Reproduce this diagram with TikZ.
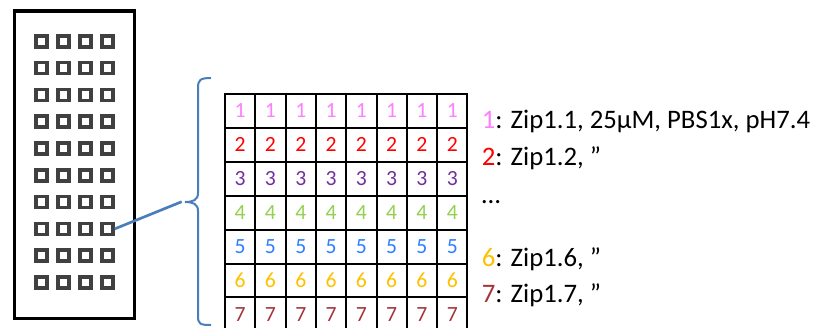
\documentclass[tikz,border=0pt]{standalone}
\usepackage{fontspec}
\setmainfont{Carlito}
\usetikzlibrary{positioning}
\definecolor{chipGrey}{HTML}{404040}
\definecolor{braceBlue}{HTML}{4A7EBB}
\definecolor{zipPink}{HTML}{FF80FF}
\definecolor{zipRed}{HTML}{FF0000}
\definecolor{zipPurple}{HTML}{7030A0}
\definecolor{zipGreen}{HTML}{92D050}
\definecolor{zipBlue}{HTML}{2E7FFF}
\definecolor{zipGold}{HTML}{FFC000}
\definecolor{zipBrown}{HTML}{A5343A}

\begin{document}
\begin{tikzpicture}[
    x=0.03cm, y=-0.03cm,
    chip/.style={rectangle, draw=black, line width=0.1cm},
    spot/.style={rectangle, draw=chipGrey, line width=0.11cm,
                 minimum size=0.33cm, inner sep=0pt},
    well/.style={rectangle, draw=black, line width=0.06cm,
                 minimum width=0.909cm, minimum height=1.017cm, inner sep=0pt,
                 font=\fontsize{18.5}{20}\selectfont},
    link/.style={draw=braceBlue, line width=0.08cm},
    legend/.style={anchor=base west, inner sep=0pt,
                 font=\fontsize{22.8}{26}\selectfont},
  ]
    \clip (0,0) rectangle (830,327);

    % slide with spots
    \draw[chip] (14.5,11) rectangle (134.5,318.5);
    \foreach \r in {1,...,10}
      \foreach \c in {1,...,4}
        \node[spot] (sq-\r-\c) at ({41.3+22*(\c-1)},{41.3+26.8*(\r-1)}) {};

    % plate of wells
    \foreach \r/\col in {1/zipPink, 2/zipRed, 3/zipPurple, 4/zipGreen,
                         5/zipBlue, 6/zipGold, 7/zipBrown}
      \foreach \c in {1,...,8}
        \node[well, text=\col] (w-\r-\c) at ({240.15+30.3*(\c-1)},{110.95+33.9*(\r-1)}) {\r};

    % brace
    \coordinate (bracetip) at (185,202);
    \draw[braceBlue, line width=0.06cm]
      (211,78) .. controls (200,78) and (198,80) .. (198,88) -- (198,193)
      .. controls (198,200) and (193,202) .. (bracetip)
      .. controls (193,202) and (198,204) .. (198,211) -- (198,316)
      .. controls (198,324) and (200,325) .. (211,325);
    \coordinate (linkend) at (181.7,201.7);
    \draw[link] (sq-8-4.east) -- (linkend);

    % legend
    \node[legend] (lab1) at (481.7,128.3) {\textcolor{zipPink}{1}: Zip1.1, 25µM, PBS1x, pH7.4};
    \node[legend] (lab2) at (481.7,165) {\textcolor{zipRed}{2}: Zip1.2, ”};
    \node[legend] (dots) at (481.7,203) {…};
    \node[legend] (lab6) at (481.7,266) {\textcolor{zipGold}{6}: Zip1.6, ”};
    \node[legend] (lab7) at (481.7,302.7) {\textcolor{zipBrown}{7}: Zip1.7, ”};
  \end{tikzpicture}
\end{document}
